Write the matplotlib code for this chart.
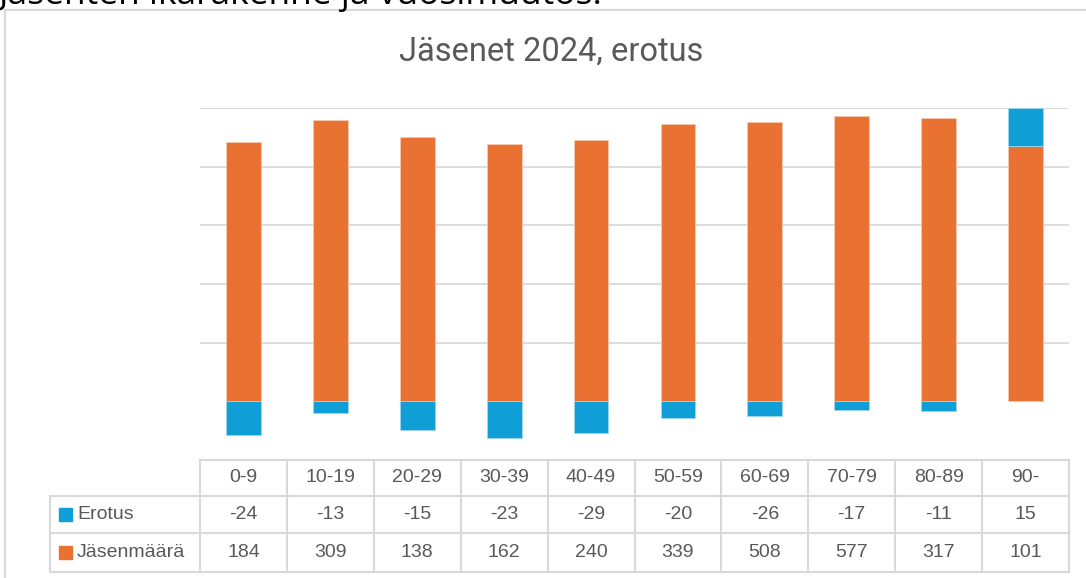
import numpy as np
import matplotlib
matplotlib.use("Agg")
import matplotlib.pyplot as plt
from matplotlib.lines import Line2D
from matplotlib.patches import Rectangle

categories = ["0-9", "10-19", "20-29", "30-39", "40-49", "50-59", "60-69", "70-79", "80-89", "90-"]
erotus = [-24, -13, -15, -23, -29, -20, -26, -17, -11, 15]
jasenmaara = [184, 309, 138, 162, 240, 339, 508, 577, 317, 101]
series_names = ["Erotus", "Jäsenmäärä"]
title = "Jäsenet 2024, erotus"
heading = "Jäsenten ikärakenne ja vuosimuutos."

C_BLUE = "#0F9ED5"
C_ORANGE = "#E97132"
C_TEXT = "#595959"
C_GRID = "#D9D9D9"

W, H = 1086, 578
fig = plt.figure(figsize=(W / 100, H / 100), dpi=100)

def fx(px):
    return px / W

def fy(py):
    return 1 - py / H

# chart frame
fig.add_artist(Line2D([fx(5), fx(5)], [fy(10), fy(580)], color=C_GRID, lw=1.5))
fig.add_artist(Line2D([fx(5), fx(1090)], [fy(10), fy(10)], color=C_GRID, lw=1.5))

# cut-off heading above chart
fig.text(fx(-1), fy(4), heading, fontsize=25.5, family="Open Sans", color="black",
         ha="left", va="baseline")

# plot area: x 200..1069, y 108 (100%) .. 460 (-20%)
L, R, T, B = 200, 1069, 108, 460
ax = fig.add_axes([fx(L), fy(B), fx(R - L), (B - T) / H])

er = np.array(erotus, dtype=float)
jm = np.array(jasenmaara, dtype=float)
tot = np.abs(er) + np.abs(jm)
jm_p = jm / tot * 100
er_p = er / tot * 100
x = np.arange(len(categories))
bw = 0.4
ax.bar(x, jm_p, width=bw, color=C_ORANGE, edgecolor="#F6C9B0", linewidth=0.6, zorder=3)
er_bottom = np.where(er >= 0, jm_p, 0)
ax.bar(x, er_p, bottom=er_bottom, width=bw, color=C_BLUE, edgecolor="#9FD6EE",
       linewidth=0.6, zorder=3)

ax.set_xlim(-0.5, len(categories) - 0.5)
ax.set_ylim(-20, 100)
for g in [20, 40, 60, 80, 100]:
    ax.axhline(g, color=C_GRID, lw=1.3, zorder=1)
for s in ax.spines.values():
    s.set_visible(False)
ax.set_xticks([])
ax.set_yticks([])

fig.text(fx(551), fy(52), title, fontsize=23.5, family="Roboto",
         color=C_TEXT, ha="center", va="center")

# data table
col_w = (R - L) / len(categories)
rows_y = [460, 496, 533, 572]
lw_t = 1.5
fig.add_artist(Line2D([fx(L), fx(R)], [fy(rows_y[0])] * 2, color=C_GRID, lw=lw_t))
for yy in rows_y[1:]:
    fig.add_artist(Line2D([fx(50), fx(R)], [fy(yy)] * 2, color=C_GRID, lw=lw_t))
for i in range(len(categories) + 1):
    xx = L + i * col_w
    fig.add_artist(Line2D([fx(xx)] * 2, [fy(rows_y[0]), fy(rows_y[-1])], color=C_GRID, lw=lw_t))
fig.add_artist(Line2D([fx(50)] * 2, [fy(rows_y[1]), fy(rows_y[-1])], color=C_GRID, lw=lw_t))

tfont = dict(fontsize=14, family="Liberation Sans", color=C_TEXT, va="center")
row_vals = [categories, [str(v) for v in erotus], [str(v) for v in jasenmaara]]
for r, vals in enumerate(row_vals):
    yc = (rows_y[r] + rows_y[r + 1]) / 2
    for i, v in enumerate(vals):
        xc = L + (i + 0.5) * col_w
        fig.text(fx(xc), fy(yc), v, ha="center", **tfont)

for r, (name, col) in enumerate(zip(series_names, [C_BLUE, C_ORANGE])):
    yc = (rows_y[r + 1] + rows_y[r + 2]) / 2
    fig.add_artist(Rectangle((fx(59), fy(yc + 6.5)), fx(13), 13 / H, color=col))
    fig.text(fx(77), fy(yc), name, ha="left", **tfont)

fig.savefig("out.png", dpi=100)
